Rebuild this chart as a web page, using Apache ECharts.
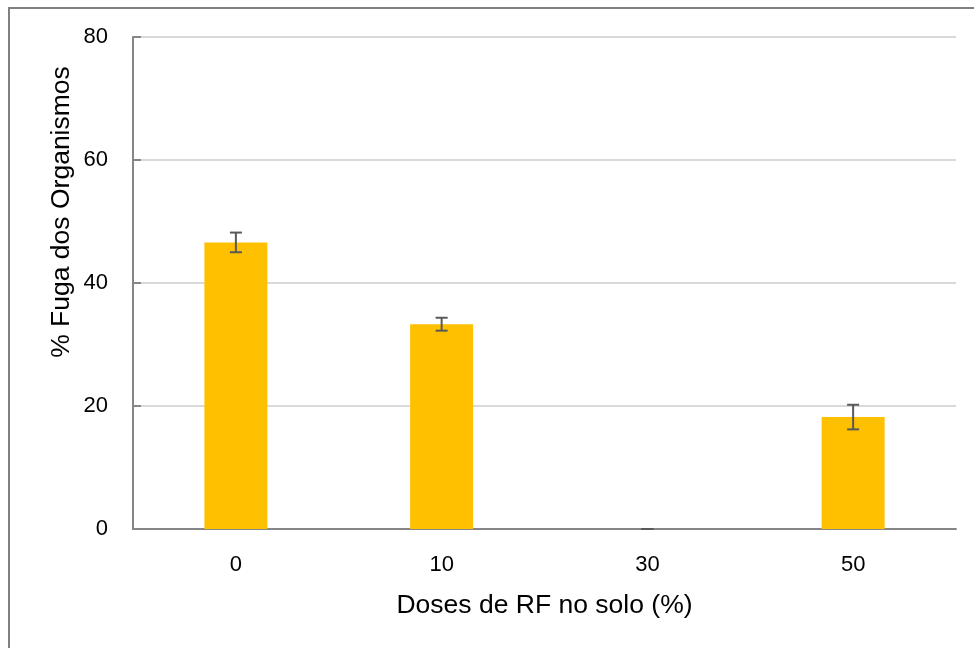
<!DOCTYPE html>
<html>
<head>
<meta charset="utf-8">
<script src="https://cdn.jsdelivr.net/npm/echarts@6/dist/echarts.min.js"></script>
<style>
  html, body { margin: 0; padding: 0; background: #ffffff; }
  #chart { width: 974px; height: 648px; }
</style>
</head>
<body>
<div id="chart"></div>
<script>
// dados
const categories = ['0', '10', '30', '50'];
const meanValues = [46.6, 33.3, 0, 18.2];
const errorValues = [1.6, 1.05, 0, 2.0];
const yTicks = [0, 20, 40, 60, 80];

const chart = echarts.init(document.getElementById('chart'));

const fontFamily = '"Liberation Sans", Arial, sans-serif';
const axisGrey = '#868686';

const errorData = meanValues.map((v, i) => [i, v - errorValues[i], v + errorValues[i]]);

const option = {
  backgroundColor: '#ffffff',
  animation: false,
  grid: {
    left: 133,
    right: 18,
    top: 37,
    bottom: 119
  },
  graphic: [
    {
      // moldura externa (só esquerda e topo visíveis)
      type: 'rect',
      shape: { x: 9, y: 8, width: 1000, height: 700 },
      style: { fill: 'none', stroke: '#808080', lineWidth: 2 },
      silent: true
    },
    {
      type: 'text',
      x: 62,
      y: 212,
      rotation: Math.PI / 2,
      style: {
        text: '% Fuga dos Organismos',
        fontSize: 26.5,
        fontFamily: fontFamily,
        fill: '#000000',
        align: 'center',
        verticalAlign: 'middle'
      }
    }
  ],
  xAxis: {
    type: 'category',
    data: categories,
    name: 'Doses de RF no solo (%)',
    nameLocation: 'middle',
    nameGap: 63,
    nameTextStyle: {
      fontSize: 26.5,
      fontFamily: fontFamily,
      color: '#000000'
    },
    axisLine: {
      lineStyle: { color: axisGrey, width: 2 }
    },
    axisTick: {
      inside: true,
      length: 8,
      lineStyle: { color: axisGrey, width: 2 }
    },
    axisLabel: {
      fontSize: 22,
      fontFamily: fontFamily,
      color: '#000000',
      margin: 25
    }
  },
  yAxis: {
    type: 'value',
    min: 0,
    max: 80,
    interval: 20,
    axisLine: {
      show: true,
      lineStyle: { color: axisGrey, width: 2 }
    },
    axisTick: {
      show: true,
      inside: true,
      length: 8,
      lineStyle: { color: axisGrey, width: 2 }
    },
    axisLabel: {
      fontSize: 22,
      fontFamily: fontFamily,
      color: '#000000',
      margin: 25,
      formatter: v => (yTicks.indexOf(v) >= 0 ? String(v) : '')
    },
    splitLine: {
      lineStyle: { color: '#d9d9d9', width: 2 }
    }
  },
  series: [
    {
      name: 'Fuga',
      type: 'bar',
      data: meanValues,
      barWidth: 63,
      itemStyle: { color: '#FFC000' },
      z: 2
    },
    {
      name: 'Erro',
      type: 'custom',
      data: errorData,
      z: 3,
      renderItem: function (params, api) {
        const x = api.value(0);
        const low = api.coord([x, api.value(1)]);
        const high = api.coord([x, api.value(2)]);
        const half = 6;
        const style = { stroke: '#595959', lineWidth: 2 };
        return {
          type: 'group',
          children: [
            { type: 'line', shape: { x1: high[0], y1: high[1], x2: low[0], y2: low[1] }, style: style },
            { type: 'line', shape: { x1: high[0] - half, y1: high[1], x2: high[0] + half, y2: high[1] }, style: style },
            { type: 'line', shape: { x1: low[0] - half, y1: low[1], x2: low[0] + half, y2: low[1] }, style: style }
          ]
        };
      }
    }
  ]
};

chart.setOption(option);
</script>
</body>
</html>
